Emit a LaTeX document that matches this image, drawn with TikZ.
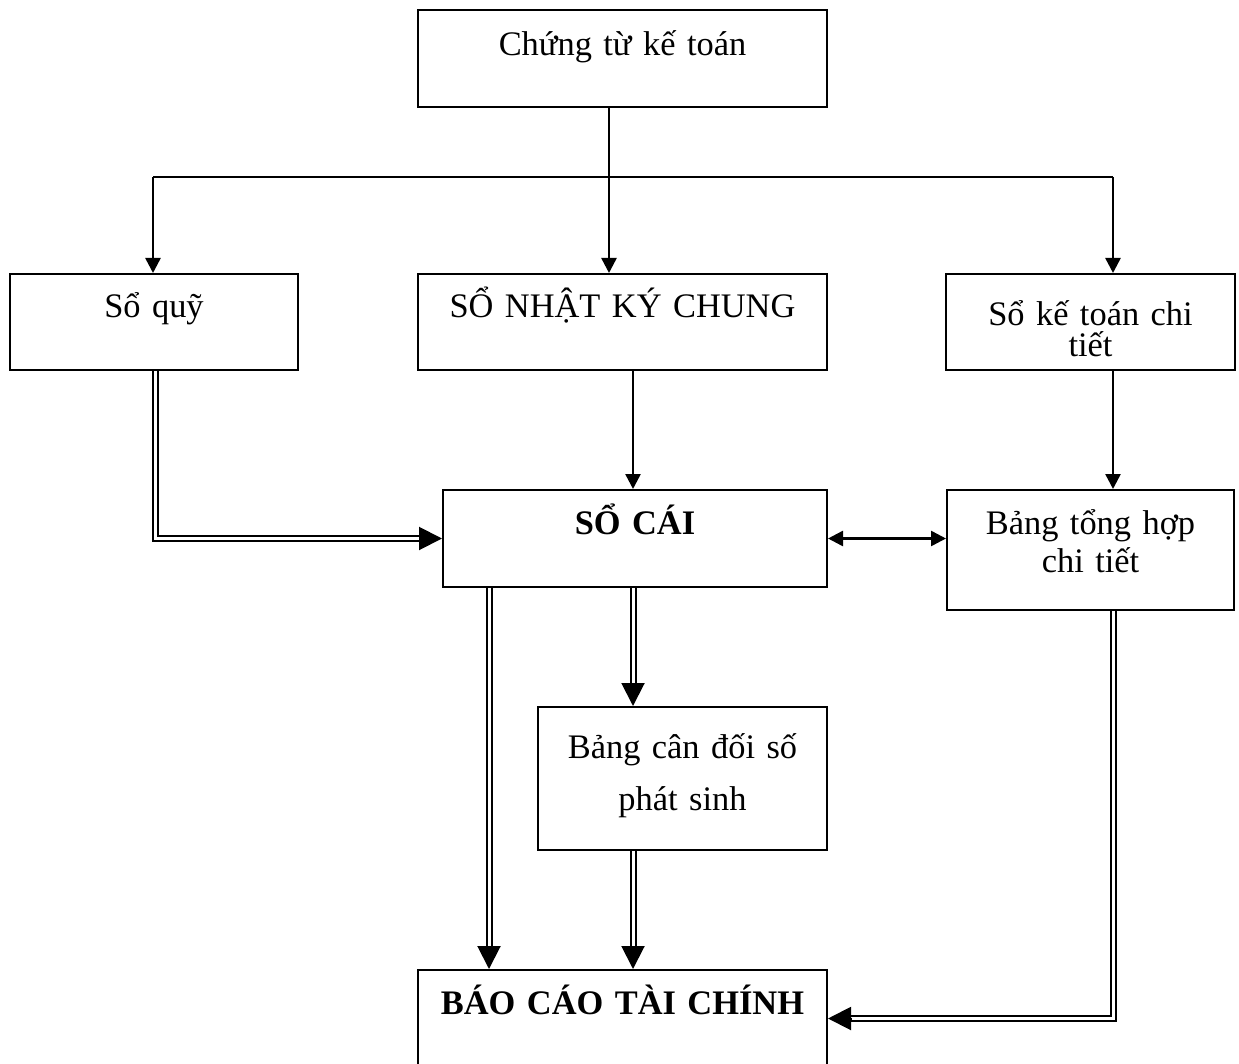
\documentclass[tikz,border=0pt]{standalone}
\usepackage{fontspec}
\setmainfont{Liberation Serif}
\usetikzlibrary{arrows.meta,calc}
\lineskiplimit=-100pt
\begin{document}
\begin{tikzpicture}[x=1pt,y=-1pt,
  box/.style={draw, line width=2pt, inner sep=0pt, anchor=north west, align=center,
    font=\fontsize{34.4}{41}\selectfont},
  sline/.style={line width=2.5pt},
  sarrow/.style={line width=2.5pt, -{Triangle[length=15pt,width=15pt]}},
  barrow/.style={line width=2.5pt, {Triangle[length=15pt,width=15pt]}-{Triangle[length=15pt,width=15pt]}},
  dline/.style={double, double distance=3pt, line width=2pt, shorten >=12pt},
  dtip/.style={line width=2pt, -{Triangle[length=23pt,width=23pt]}}
]
\clip (0,0) rectangle (1239,1064);
\fill[white] (0,0) rectangle (1239,1064);

% boxes
\node[box, text width=409pt, text height=46pt, text depth=51pt] (ct) at (417,9) {Chứng từ kế toán};
\node[box, text width=288pt, text height=44pt, text depth=52pt] (squy) at (9,273) {Sổ quỹ};
\node[box, text width=409pt, text height=44pt, text depth=52pt] (snk) at (417,273) {SỔ NHẬT KÝ CHUNG};
\node[box, text width=289pt, text height=52pt, text depth=44pt,
  font=\fontsize{34.4}{31}\selectfont] (sktct) at (945,273) {Sổ kế toán chi\\tiết};
\node[box, text width=384pt, text height=44pt, text depth=53pt] (scai) at (442,489) {\textbf{SỔ CÁI}};
\node[box, text width=287pt, text height=44pt, text depth=76pt,
  font=\fontsize{34.4}{38}\selectfont] (bth) at (946,489) {Bảng tổng hợp\\chi tiết};
\node[box, text width=289pt, text height=51pt, text depth=92pt,
  font=\fontsize{34.4}{52}\selectfont] (bcd) at (537,706) {Bảng cân đối số\\phát sinh};
\node[box, text width=409pt, text height=44pt, text depth=53pt] (bctc) at (417,969) {\textbf{BÁO CÁO TÀI CHÍNH}};

% helper coordinates
\coordinate (xa) at (609,0);
\coordinate (busL) at (153,177);
\coordinate (busR) at (1113,177);
\coordinate (xm) at (633,0);
\coordinate (xq) at (155,0);
\coordinate (xl) at (489,0);
\coordinate (xr) at (1113,0);

% single connectors
\draw[sline] (busL) -- (busR);
\draw[sarrow] (ct.south -| xa) -- (snk.north -| xa);
\draw[sarrow] (busL) -- (squy.north -| busL);
\draw[sarrow] (busR) -- (sktct.north -| busR);
\draw[sarrow] (snk.south -| xm) -- (scai.north -| xm);
\draw[sarrow] (sktct.south -| xr) -- (bth.north -| xr);
\draw[barrow] (scai.east) -- (scai.east -| bth.west);

% double connectors
\draw[dline] (squy.south -| xq) |- (scai.west);
\draw[dtip] ($(scai.west)+(-23,0)$) -- (scai.west);
\draw[dline] (scai.south -| xl) -- (bctc.north -| xl);
\draw[dtip] ($(bctc.north -| xl)+(0,-23)$) -- (bctc.north -| xl);
\draw[dline] (scai.south -| xm) -- (bcd.north -| xm);
\draw[dtip] ($(bcd.north -| xm)+(0,-23)$) -- (bcd.north -| xm);
\draw[dline] (bcd.south -| xm) -- (bctc.north -| xm);
\draw[dtip] ($(bctc.north -| xm)+(0,-23)$) -- (bctc.north -| xm);
\draw[dline] (bth.south -| xr) |- (bctc.east);
\draw[dtip] ($(bctc.east)+(23,0)$) -- (bctc.east);
\end{tikzpicture}
\end{document}
